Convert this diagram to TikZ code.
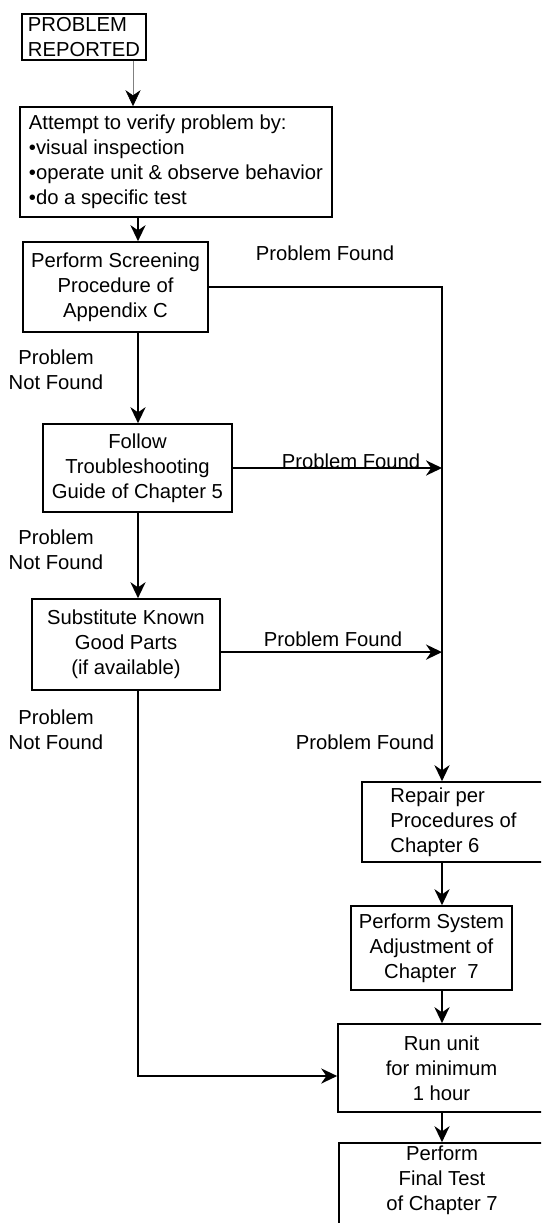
\documentclass[tikz,border=0pt]{standalone}
\usepackage{fontspec}
\setmainfont{Liberation Sans}
\usetikzlibrary{arrows.meta}

\begin{document}
\begin{tikzpicture}[
  box/.style={draw,line width=1.2pt,inner sep=0pt,align=center,font=\fontsize{14.4pt}{17.8pt}\selectfont},
  lbl/.style={align=center,inner sep=0pt,font=\fontsize{14.4pt}{17.8pt}\selectfont},
  flow/.style={line width=1.2pt,-{Stealth[length=0.4cm,width=0.38cm]}}]
  \useasboundingbox (0,0) rectangle (13.525,-30.575);
  \clip (0,0) rectangle (13.525,-30.575);
  %caixas da coluna da esquerda
  \node[box,align=left,minimum width=3.1cm,minimum height=1.15cm] (reported) at (2.1,-0.925) {PROBLEM\\REPORTED};
  \node[box,align=left,minimum width=7.8cm,minimum height=2.75cm] (verify) at (4.4,-4.05) {Attempt to verify problem by:\\\textbullet visual inspection\\\textbullet operate unit \& observe behavior\\\textbullet do a specific test};
  \node[box,minimum width=4.625cm,minimum height=2.25cm] (screen) at (2.8875,-7.175) {Perform Screening\\Procedure of\\Appendix C};
  \node[box,minimum width=4.725cm,minimum height=2.2cm] (trouble) at (3.4375,-11.7) {Follow\\Troubleshooting\\Guide of Chapter 5};
  \node[box,minimum width=4.7cm,minimum height=2.275cm] (substitute) at (3.15,-16.1125) {Substitute Known\\Good Parts\\(if available)};
  %caixas da coluna da direita
  \node[box,align=left,minimum width=4.575cm,minimum height=2cm] (repair) at (11.3375,-20.55) {Repair per\\Procedures of\\Chapter 6};
  \node[box,minimum width=4.025cm,minimum height=2.1cm] (adjust) at (10.7875,-23.7) {Perform System\\Adjustment of\\Chapter~~7};
  \node[box,minimum width=5.175cm,minimum height=2.2cm] (runit) at (11.0375,-26.7) {Run unit\\for minimum\\1 hour};
  \node[box,minimum width=5.15cm,minimum height=2.425cm,
        label={[lbl,anchor=north,yshift=-0.08cm]north:{Perform\\Final Test\\of Chapter 7}}] (final) at (11.05,-29.7875) {};
  %rotulos
  \node[lbl] (pf1) at (8.125,-6.325) {Problem Found};
  \node[lbl] (pf2) at (8.775,-11.525) {Problem Found};
  \node[lbl] (pf3) at (8.325,-15.975) {Problem Found};
  \node[lbl] (pf4) at (9.125,-18.55) {Problem Found};
  \node[lbl] (nf1) at (1.4,-9.25) {Problem\\Not Found};
  \node[lbl] (nf2) at (1.4,-13.74) {Problem\\Not Found};
  \node[lbl] (nf3) at (1.4,-18.24) {Problem\\Not Found};
  %linhas
  \coordinate (bus) at (11.05,0);
  \coordinate (colA) at (3.45,0);
  \coordinate (colR) at (3.325,0);
  \draw[line width=0.4pt,gray,-{Stealth[length=0.4cm,width=0.38cm,black]}] (reported.south -| colR) -- (verify.north -| colR);
  \draw[flow] (verify.south -| colA) -- (screen.north -| colA);
  \draw[flow] (screen.east) -- (screen.east -| bus) -- (repair.north -| bus);
  \draw[flow] (screen.south -| colA) -- (trouble.north -| colA);
  \draw[flow] (trouble.east) -- (trouble.east -| bus);
  \draw[flow] (trouble.south -| colA) -- (substitute.north -| colA);
  \draw[flow] ([yshift=-0.19cm]substitute.east) -- ([yshift=-0.19cm]substitute.east -| bus);
  \draw[flow] (substitute.south -| colA) |- ([yshift=-0.2cm]runit.west);
  \draw[flow] (repair.south -| bus) -- (adjust.north -| bus);
  \draw[flow] (adjust.south -| bus) -- (runit.north -| bus);
  \draw[flow] (runit.south -| bus) -- (final.north -| bus);
\end{tikzpicture}
\end{document}
